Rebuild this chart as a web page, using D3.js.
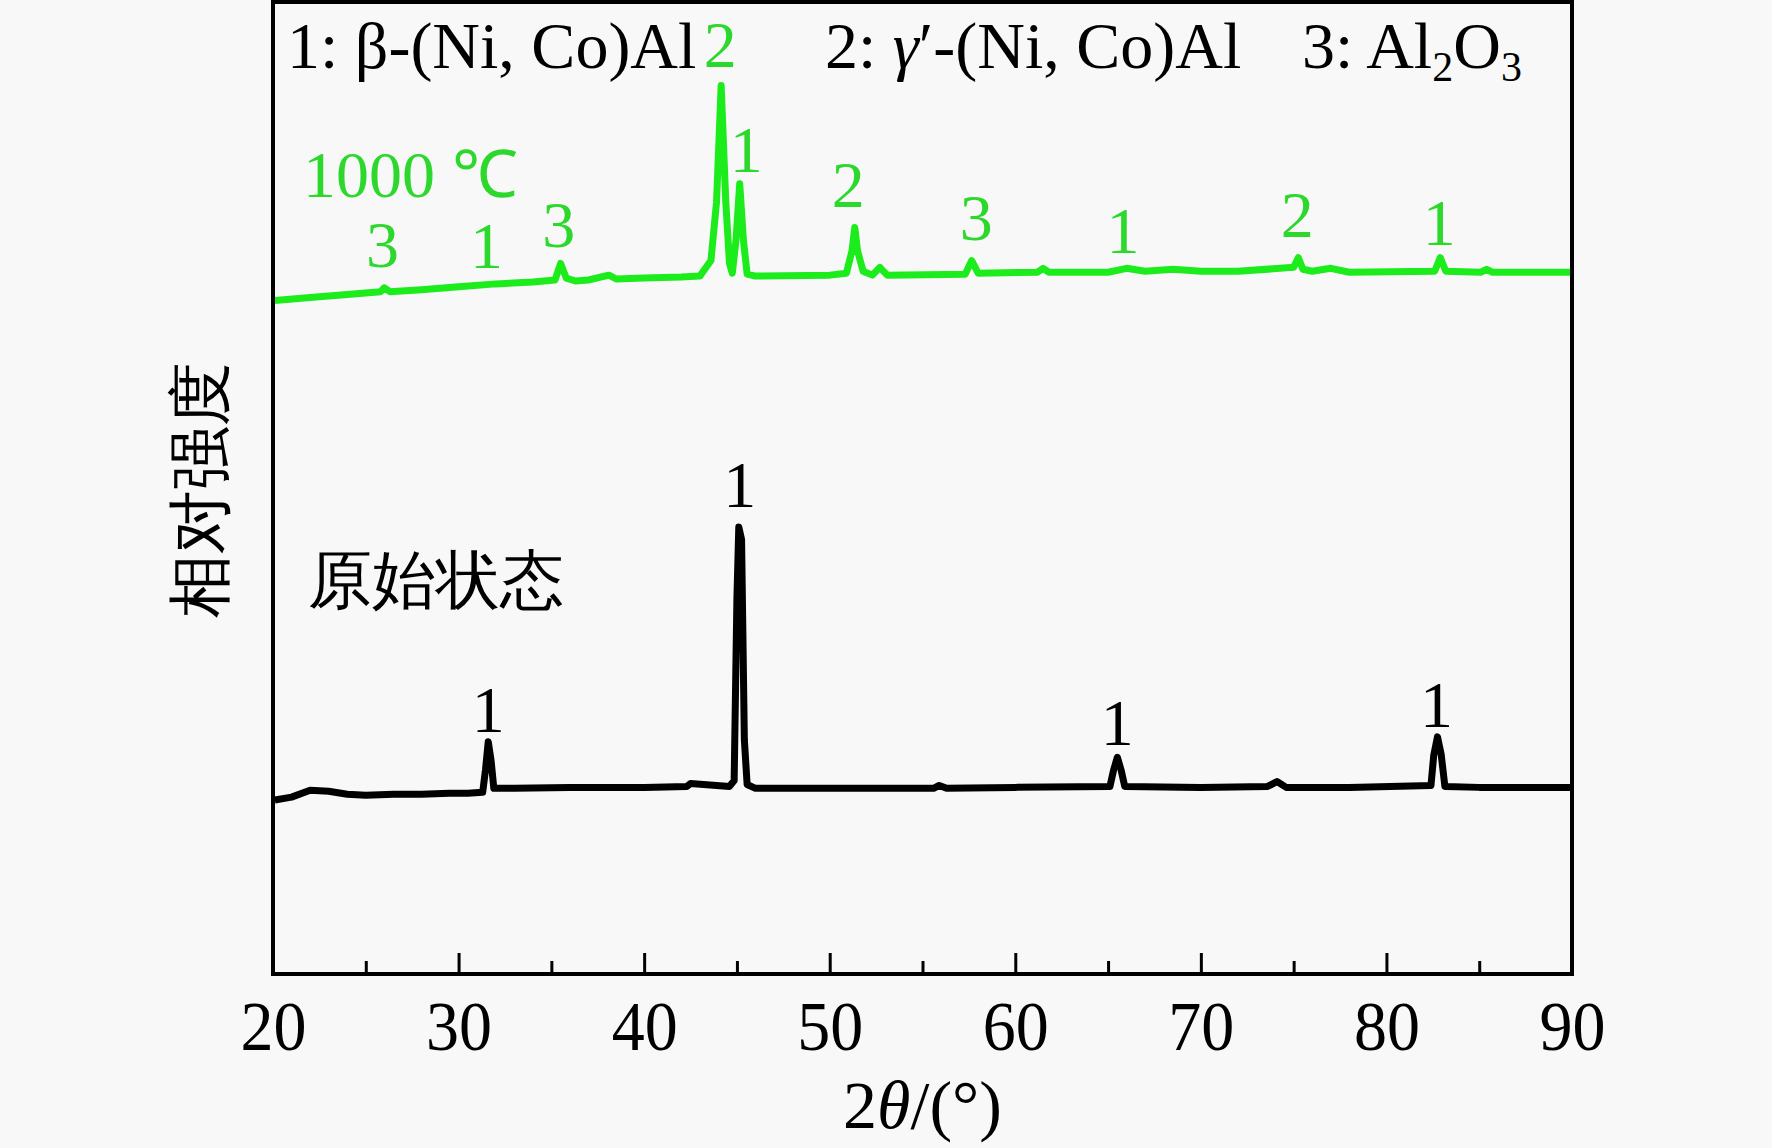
<!DOCTYPE html>
<html>
<head>
<meta charset="utf-8">
<script src="https://cdn.jsdelivr.net/npm/d3@7"></script>
<style>
  body { margin: 0; background: #f8f8f8; }
  text { font-family: "Liberation Serif", "Times New Roman", serif; }
</style>
</head>
<body>
<div id="vis"></div>
<script>
const WIDTH = 1772;
const HEIGHT = 1148;
const MARGIN = { LEFT: 273, RIGHT: 200, TOP: 2, BOTTOM: 174 };

// 2theta / intensity (a.u.)
const rawAngle = [20.1, 21, 22, 23, 24, 25, 26.5, 28, 29.5, 30.5, 31.3, 31.45, 31.6, 31.75, 31.9, 33, 36, 38, 40,
  42.3, 42.5, 44.6, 44.85, 45.0, 45.1, 45.25, 45.4, 45.55, 46, 50, 55.6, 55.9, 56.3, 60, 65.1, 65.3, 65.5, 65.7, 65.9,
  70, 73.6, 74.1, 74.6, 78, 82.4, 82.55, 82.75, 82.95, 83.15, 85, 90];
const rawIntensity = [179, 182, 189, 188, 185, 184, 185, 185, 186, 186, 187, 210, 239, 220, 191, 191, 192, 192, 192,
  193, 196, 193, 199, 387, 460, 447, 241, 195, 191, 191, 191, 194, 191, 192, 193, 210, 223, 210, 193,
  192, 193, 198, 192, 192, 194, 225, 244, 226, 193, 192, 192];

const heatAngle = [20.1, 22, 24, 25.8, 26.0, 26.3, 28, 30, 32, 34, 35.2, 35.5, 35.8, 36.3, 37, 38.1, 38.5, 40, 42,
  43.0, 43.6, 43.9, 44.15, 44.4, 44.6, 44.75, 44.95, 45.15, 45.35, 45.55, 46, 50, 50.9, 51.2, 51.35, 51.5, 51.8,
  52.3, 52.7, 53.1, 57.3, 57.65, 58.0, 61.2, 61.5, 61.8, 65, 66, 67, 68.5, 70, 72, 75.0, 75.25, 75.5, 76, 77, 78,
  82.6, 82.9, 83.2, 85.1, 85.4, 85.7, 90];
const heatIntensity = [693, 696, 699, 702, 706, 702, 704, 707, 710, 712, 714, 731, 716, 713, 714, 719, 715, 716, 717,
  718, 734, 794, 914, 794, 731, 721, 755, 813, 755, 720, 718, 719, 721, 744, 768, 744, 723,
  719, 727, 719, 720, 734, 721, 722, 726, 722, 722, 726, 723, 725, 723, 723, 727, 737, 725, 723, 726, 722,
  723, 737, 723, 722, 725, 722, 722];

// peak markers: angle, label, anchor intensity
const rawPeakAngle = [31.6, 45.15, 65.5, 82.7];
const rawPeakLabel = ["1", "1", "1", "1"];
const rawPeakLevel = [249, 480, 236, 254];

const heatPeakAngle = [25.9, 31.5, 35.4, 44.1, 45.5, 51.0, 57.9, 65.8, 75.2, 82.85];
const heatPeakLabel = ["3", "1", "3", "2", "1", "2", "3", "1", "2", "1"];
const heatPeakLevel = [727, 726, 748, 933, 825, 789, 755, 742, 758, 750];

const majorTicks = [20, 30, 40, 50, 60, 70, 80, 90];
const minorTicks = [25, 35, 45, 55, 65, 75, 85];

const BLACK = "#000000";
const GREEN = "#1cec1c";
const GREEN_TEXT = "#2cd82c";

const xScale = d3.scaleLinear().domain([20, 90]).range([MARGIN.LEFT, WIDTH - MARGIN.RIGHT]);
const yScale = d3.scaleLinear().domain([0, 1000]).range([HEIGHT - MARGIN.BOTTOM, MARGIN.TOP]);

const svg = d3.select("#vis").append("svg")
  .attr("width", WIDTH)
  .attr("height", HEIGHT);

svg.append("rect").attr("width", WIDTH).attr("height", HEIGHT).attr("fill", "#f8f8f8");

const line = d3.line()
  .x((d) => xScale(d[0]))
  .y((d) => yScale(d[1]));

// patterns
svg.append("path")
  .datum(rawAngle.map((a, i) => [a, rawIntensity[i]]))
  .attr("d", line)
  .attr("fill", "none")
  .attr("stroke", BLACK)
  .attr("stroke-width", 7)
  .attr("stroke-linejoin", "round");

svg.append("path")
  .datum(heatAngle.map((a, i) => [a, heatIntensity[i]]))
  .attr("d", line)
  .attr("fill", "none")
  .attr("stroke", GREEN)
  .attr("stroke-width", 7)
  .attr("stroke-linejoin", "round");

// peak numbers
function peakLabels(angles, labels, levels, color) {
  svg.append("g")
    .selectAll("text")
    .data(angles)
    .enter()
    .append("text")
    .attr("x", (d) => xScale(d))
    .attr("y", (d, i) => yScale(levels[i]))
    .attr("text-anchor", "middle")
    .attr("font-size", 66)
    .attr("fill", color)
    .text((d, i) => labels[i]);
}
peakLabels(rawPeakAngle, rawPeakLabel, rawPeakLevel, BLACK);
peakLabels(heatPeakAngle, heatPeakLabel, heatPeakLevel, GREEN_TEXT);

// frame
const x0 = xScale(20), x1 = xScale(90), yB = yScale(0), yT = MARGIN.TOP;
svg.append("rect")
  .attr("x", x0).attr("y", yT)
  .attr("width", x1 - x0).attr("height", yB - yT)
  .attr("fill", "none").attr("stroke", BLACK).attr("stroke-width", 4);

// x axis, ticks inward
const xAxis = svg.append("g")
  .attr("transform", `translate(0,${yB})`)
  .call(d3.axisBottom(xScale).tickValues(majorTicks).tickSize(-21).tickPadding(24).tickFormat(d3.format("d")));
xAxis.select(".domain").remove();
xAxis.selectAll("line").attr("stroke", BLACK).attr("stroke-width", 3);
xAxis.selectAll("text")
  .attr("font-family", "'Liberation Serif', 'Times New Roman', serif")
  .attr("font-size", 66)
  .attr("fill", BLACK)
  .attr("transform", "scale(1,1.07)");

const xMinor = svg.append("g")
  .attr("transform", `translate(0,${yB})`)
  .call(d3.axisBottom(xScale).tickValues(minorTicks).tickSize(-13).tickFormat(""));
xMinor.select(".domain").remove();
xMinor.selectAll("line").attr("stroke", BLACK).attr("stroke-width", 3);

// axis titles
const xTitle = svg.append("text")
  .attr("x", (x0 + x1) / 2)
  .attr("y", 1128)
  .attr("text-anchor", "middle")
  .attr("font-size", 68);
xTitle.append("tspan").text("2");
xTitle.append("tspan").attr("font-style", "italic").text("θ");
xTitle.append("tspan").text("/(°)");

svg.append("text")
  .attr("transform", `translate(200,490) rotate(-90)`)
  .attr("text-anchor", "middle")
  .attr("dominant-baseline", "central")
  .attr("font-family", "'Noto Sans CJK SC', sans-serif")
  .attr("font-weight", 300)
  .attr("font-size", 64)
  .text("相对强度");

// legend of phases
svg.append("text")
  .attr("x", 287).attr("y", 68)
  .attr("font-size", 66)
  .text("1: β-(Ni, Co)Al");

const l2 = svg.append("text").attr("x", 825).attr("y", 68).attr("font-size", 66);
l2.append("tspan").text("2: ");
l2.append("tspan").attr("font-style", "italic").text("γ");
l2.append("tspan").text("′-(Ni, Co)Al");

const l3 = svg.append("text").attr("x", 1302).attr("y", 68).attr("font-size", 66);
l3.append("tspan").text("3: Al");
l3.append("tspan").attr("font-size", 42).attr("dy", 13).text("2");
l3.append("tspan").attr("dy", -13).text("O");
l3.append("tspan").attr("font-size", 42).attr("dy", 13).text("3");

// curve names
svg.append("text")
  .attr("x", 303).attr("y", 197)
  .attr("font-size", 66)
  .attr("fill", GREEN_TEXT)
  .text("1000 ℃");

svg.append("text")
  .attr("x", 308).attr("y", 602)
  .attr("font-family", "'Noto Sans CJK SC', sans-serif")
  .attr("font-weight", 300)
  .attr("font-size", 64)
  .text("原始状态");
</script>
</body>
</html>
